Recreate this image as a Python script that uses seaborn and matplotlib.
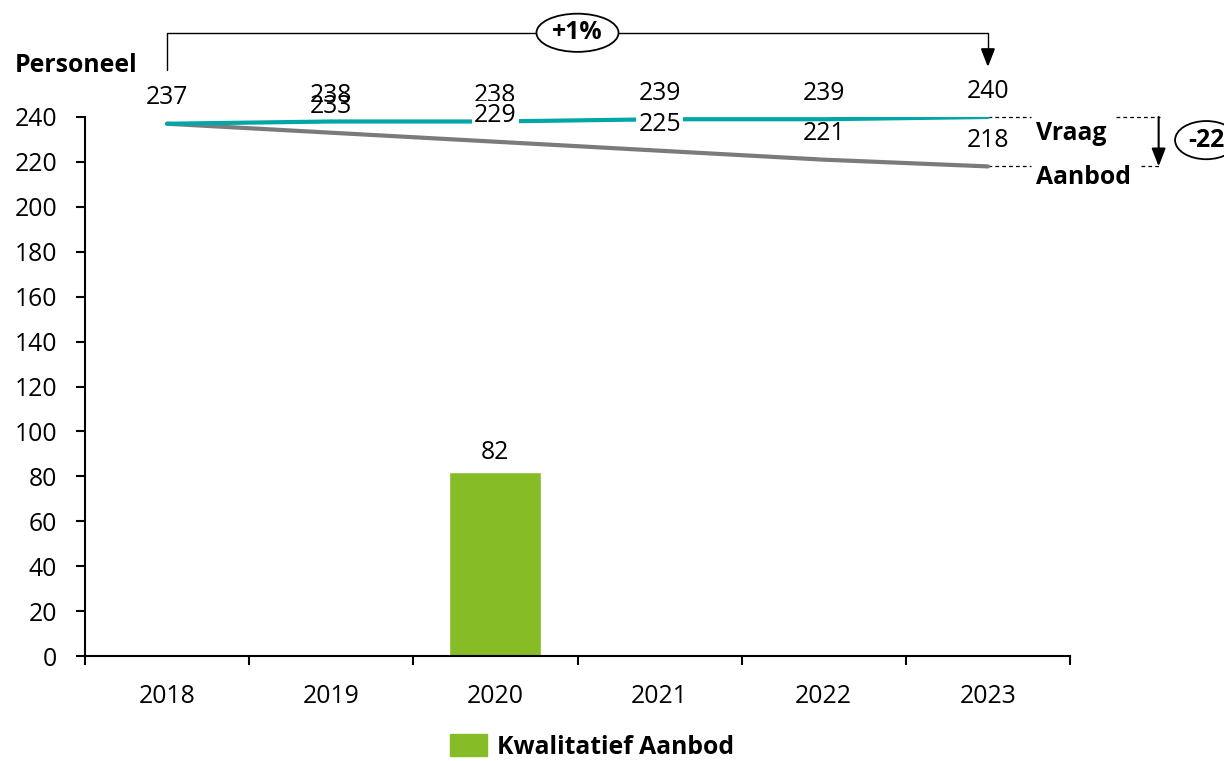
import matplotlib
matplotlib.use("Agg")
import matplotlib.pyplot as plt
from matplotlib.patches import Ellipse, Patch
import pandas as pd
import seaborn as sns

# Personeel: vraag vs aanbod, 2018-2023
YEARS = ["2018", "2019", "2020", "2021", "2022", "2023"]
VRAAG = [237, 238, 238, 239, 239, 240]
AANBOD = [237, 233, 229, 225, 221, 218]
KWAL_YEARS = ["2020"]
KWAL_AANBOD = [82]
GROWTH_LABEL = "+1%"
GAP_LABEL = "-22"

TEAL = "#00A7A6"
GREY = "#7B7B7B"
GREEN = "#86BC25"
FS = 17.8

lines = pd.DataFrame({
    "Jaar": YEARS * 2,
    "Personeel": VRAAG + AANBOD,
    "Reeks": ["Vraag"] * len(YEARS) + ["Aanbod"] * len(YEARS),
})
bars = pd.DataFrame({"Jaar": KWAL_YEARS, "Personeel": KWAL_AANBOD})


def main():
    sns.set_theme(style="white")
    plt.rcParams["font.family"] = ["Open Sans", "DejaVu Sans"]
    plt.rcParams["text.color"] = "black"

    fig = plt.figure(figsize=(12.24, 7.61), dpi=100)
    ax = fig.add_axes([85 / 1224, 105 / 761, 985 / 1224, 539 / 761])

    sns.barplot(data=bars, x="Jaar", y="Personeel", order=YEARS,
                color=GREEN, width=0.56, saturation=1, ax=ax)
    sns.lineplot(data=lines[lines.Reeks == "Aanbod"], x="Jaar", y="Personeel",
                 color=GREY, linewidth=3, ax=ax, zorder=3)
    sns.lineplot(data=lines[lines.Reeks == "Vraag"], x="Jaar", y="Personeel",
                 color=TEAL, linewidth=3, ax=ax, zorder=4)

    ax.set_xlim(-0.5, len(YEARS) - 0.5)
    ax.set_ylim(0, 240)
    ax.set_yticks(range(0, 241, 20))
    ax.set_xlabel("")
    ax.set_ylabel("")
    sns.despine(ax=ax)
    for s in ("left", "bottom"):
        ax.spines[s].set_color("black")
        ax.spines[s].set_linewidth(1.5)

    ax.tick_params(axis="y", left=True, length=6.5, width=1.5, pad=13.5,
                   labelsize=FS, colors="black")
    ax.set_xticks(range(len(YEARS)))
    ax.set_xticklabels(YEARS)
    ax.set_xticks([i - 0.5 for i in range(len(YEARS) + 1)], minor=True)
    ax.tick_params(axis="x", which="major", length=0, pad=20, labelsize=FS,
                   colors="black")
    ax.tick_params(axis="x", which="minor", bottom=True, length=6.5, width=1.5,
                   color="black")

    # data labels
    boxed = {"2020", "2021"}
    for i, (yr, v, a) in enumerate(zip(YEARS, VRAAG, AANBOD)):
        ax.annotate(str(v), (i, v), xytext=(0, 26), textcoords="offset pixels",
                    ha="center", va="center", fontsize=FS, zorder=5,
                    color="black", annotation_clip=False)
        if i == 0:
            continue
        kw = {}
        if yr in boxed:
            kw["bbox"] = dict(boxstyle="square,pad=0.1", fc="white", ec="none")
        ax.annotate(str(a), (i, a), xytext=(0, 26), textcoords="offset pixels",
                    ha="center", va="center", fontsize=FS, zorder=6,
                    color="black", annotation_clip=False, **kw)
    for yr, v in zip(KWAL_YEARS, KWAL_AANBOD):
        ax.annotate(str(v), (YEARS.index(yr), v), xytext=(0, 19),
                    textcoords="offset pixels", ha="center", va="center",
                    fontsize=FS, color="black")

    # growth bracket on top
    top_y = 277.5
    ax.plot([0, 0, 5, 5], [261, top_y, top_y, 266], color="black", lw=1,
            clip_on=False)
    ax.annotate("", xy=(5, 261), xytext=(5, 268.5),
                arrowprops=dict(arrowstyle="-|>,head_width=0.35,head_length=0.9",
                                color="black", lw=1.5), annotation_clip=False)
    ax.add_patch(Ellipse((2.5, top_y), 0.5, 17, fc="white", ec="black",
                         lw=1.3, clip_on=False, zorder=5))
    ax.text(2.5, top_y, GROWTH_LABEL, ha="center", va="center", fontsize=FS,
            fontweight="bold", zorder=6)

    # gap marker on the right
    v_end, a_end = VRAAG[-1], AANBOD[-1]
    dash = dict(color="black", lw=0.9, ls=(0, (3, 2.5)), clip_on=False)
    ax.plot([5, 5.26], [v_end, v_end], **dash)
    ax.plot([5.78, 6.05], [v_end, v_end], **dash)
    ax.plot([5, 5.26], [a_end, a_end], **dash)
    ax.plot([5.93, 6.05], [a_end, a_end], **dash)
    ax.annotate("", xy=(6.04, a_end), xytext=(6.04, v_end),
                arrowprops=dict(arrowstyle="-|>,head_width=0.35,head_length=0.9",
                                color="black", lw=1.5, shrinkA=0, shrinkB=0),
                annotation_clip=False)
    ax.text(5.29, 232.8, "Vraag", ha="left", va="center", fontsize=FS,
            fontweight="bold")
    ax.text(5.29, 213.2, "Aanbod", ha="left", va="center", fontsize=FS,
            fontweight="bold")
    ax.add_patch(Ellipse((6.33, 229.7), 0.38, 17, fc="white", ec="black",
                         lw=1.3, clip_on=False, zorder=5))
    ax.text(6.33, 229.7, GAP_LABEL, ha="center", va="center", fontsize=FS,
            fontweight="bold", zorder=6)

    fig.text(15 / 1224, 1 - 65 / 761, "Personeel", ha="left", va="center",
             fontsize=FS, fontweight="bold")

    leg = fig.legend(handles=[Patch(color=GREEN, label="Kwalitatief Aanbod")],
                     loc="center", bbox_to_anchor=(592 / 1224, 1 - 747 / 761),
                     frameon=False, fontsize=FS, handlelength=1.5,
                     handleheight=1.0, handletextpad=0.4)
    for t in leg.get_texts():
        t.set_fontweight("bold")

    fig.savefig("out.png", dpi=100)


if __name__ == "__main__":
    main()
